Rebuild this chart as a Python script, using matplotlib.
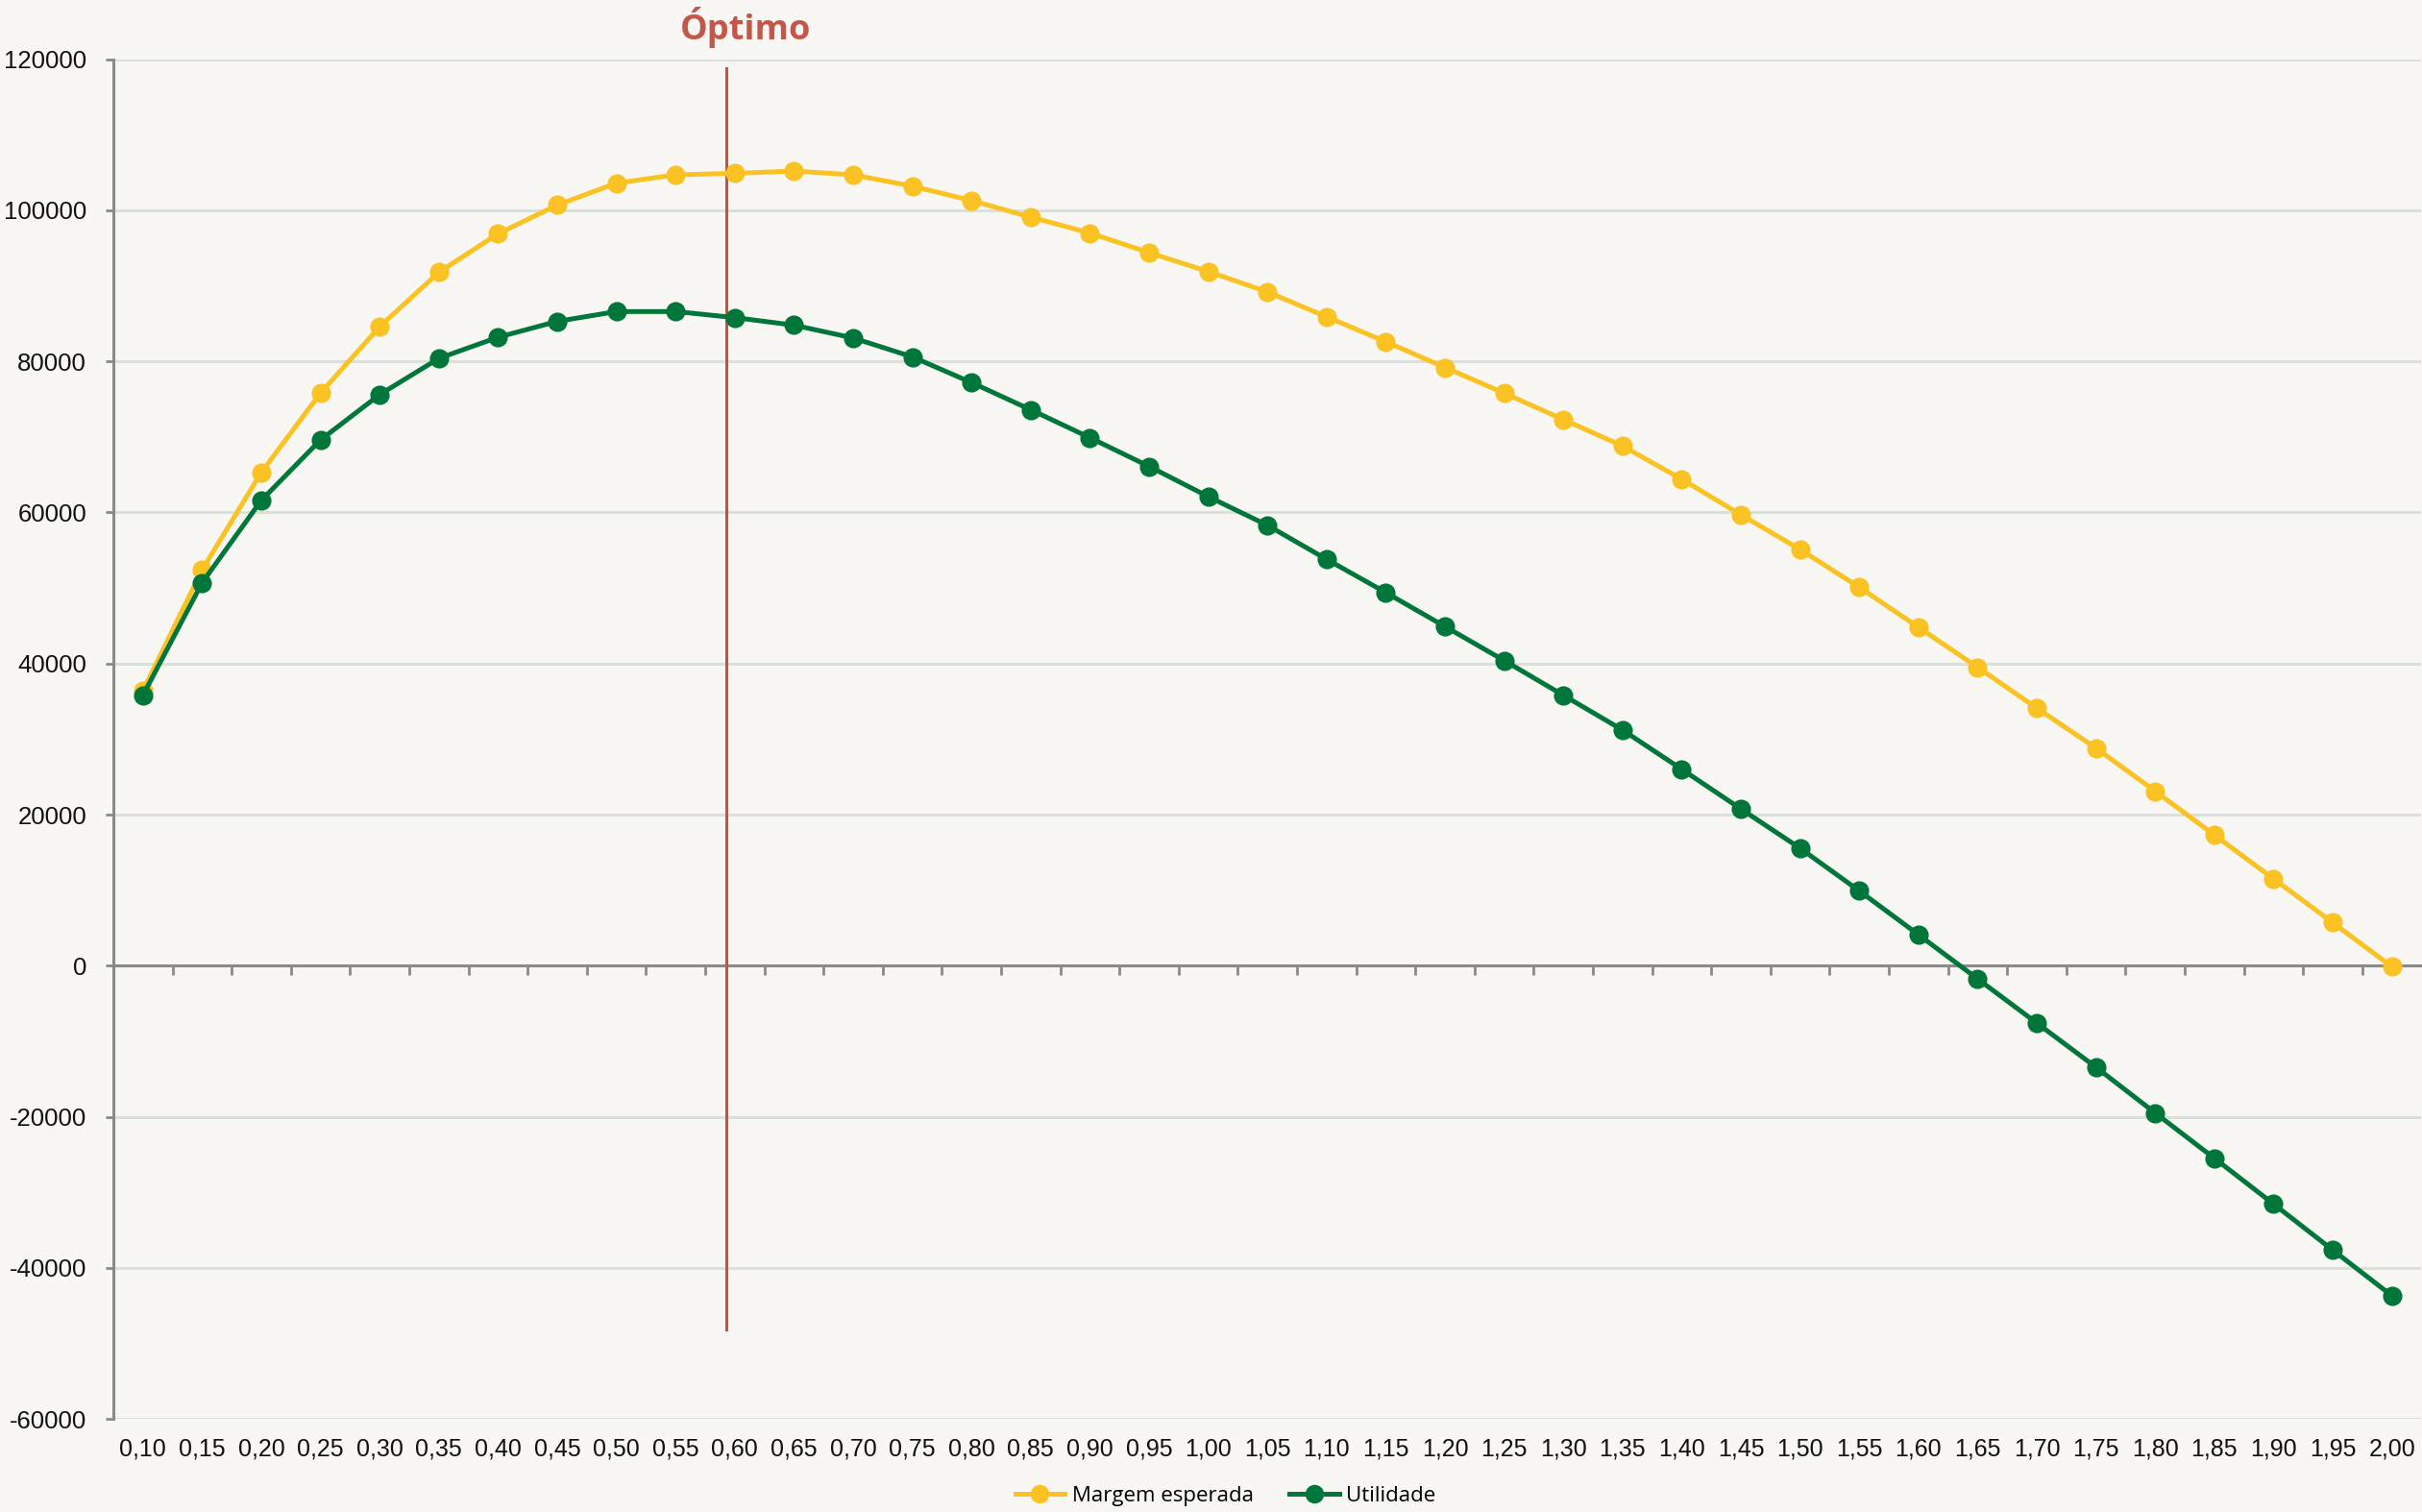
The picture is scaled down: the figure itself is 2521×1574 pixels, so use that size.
import matplotlib
matplotlib.use("Agg")
import matplotlib.pyplot as plt
from matplotlib.transforms import blended_transform_factory

# Categorias (preço relativo) e séries
precos = [0.10, 0.15, 0.20, 0.25, 0.30, 0.35, 0.40, 0.45, 0.50, 0.55,
          0.60, 0.65, 0.70, 0.75, 0.80, 0.85, 0.90, 0.95, 1.00, 1.05,
          1.10, 1.15, 1.20, 1.25, 1.30, 1.35, 1.40, 1.45, 1.50, 1.55,
          1.60, 1.65, 1.70, 1.75, 1.80, 1.85, 1.90, 1.95, 2.00]
rotulos = [f"{p:.2f}".replace(".", ",") for p in precos]

margem_esperada = [36400, 52400, 65300, 75800, 84600, 91800, 96900, 100700, 103600, 104700,
                   104900, 105200, 104700, 103200, 101300, 99100, 97000, 94400, 91900, 89200,
                   85900, 82600, 79200, 75800, 72300, 68800, 64400, 59700, 55100, 50100,
                   44800, 39500, 34100, 28800, 23100, 17300, 11500, 5700, -150]

utilidade = [35800, 50700, 61600, 69600, 75600, 80400, 83200, 85300, 86600, 86600,
             85800, 84800, 83100, 80600, 77200, 73600, 69900, 66100, 62100, 58300,
             53800, 49400, 44900, 40400, 35800, 31200, 26000, 20750, 15550, 9900,
             4100, -1750, -7600, -13450, -19500, -25500, -31550, -37650, -43700]

# Linha vertical do óptimo
optimo_preco = 0.5925
optimo_topo = 118800
optimo_base = -48200

y_ticks = [-60000, -40000, -20000, 0, 20000, 40000, 60000, 80000, 100000, 120000]

# Estilo
FUNDO = "#F8F7F3"
AMARELO = "#FBC223"
VERDE = "#00763A"
VERMELHO = "#CC4F3D"
TITULO = "#C4574A"
GRELHA = "#DAE0DA"
EIXO = "#8A8A8A"

plt.rcParams["font.family"] = ["Liberation Sans", "DejaVu Sans"]

fig = plt.figure(figsize=(25.21, 15.74), dpi=100, facecolor=FUNDO)
ax = fig.add_axes([0.0468, 0.0616, 0.953, 0.8992])
ax.set_facecolor(FUNDO)

pos = list(range(len(precos)))

ax.plot(pos, margem_esperada, color=AMARELO, lw=3.6, marker="o", ms=13.5,
        mec=AMARELO, mfc=AMARELO, clip_on=False, zorder=4, label="Margem esperada")
ax.plot(pos, utilidade, color=VERDE, lw=3.6, marker="o", ms=13.5,
        mec=VERDE, mfc=VERDE, clip_on=False, zorder=5, label="Utilidade")

# posição do óptimo na escala de categorias
passo = precos[1] - precos[0]
pos_optimo = (optimo_preco - precos[0]) / passo
ax.plot([pos_optimo, pos_optimo], [optimo_base, optimo_topo], color=VERMELHO,
        lw=2.2, zorder=3, clip_on=False)

ax.set_xlim(-0.5, len(precos) - 0.5)
ax.set_ylim(y_ticks[0], y_ticks[-1])

# Grelha horizontal
ax.set_yticks(y_ticks)
ax.set_yticklabels([str(v) for v in y_ticks])
ax.yaxis.grid(True, color=GRELHA, lw=2.2, zorder=0)
ax.set_axisbelow(True)
ax.tick_params(axis="y", length=6, width=2, color=EIXO, pad=14,
               labelsize=18.5, labelcolor="#111111")

# Eixo horizontal cruza em zero, marcas entre categorias
for s in ["top", "right"]:
    ax.spines[s].set_visible(False)
ax.spines["left"].set_color(EIXO)
ax.spines["left"].set_linewidth(2.2)
ax.spines["bottom"].set_position(("data", 0))
ax.spines["bottom"].set_color(EIXO)
ax.spines["bottom"].set_linewidth(2.2)
ax.spines["bottom"].set_zorder(2)
ax.set_xticks([i + 0.5 for i in pos[:-1]])
ax.set_xticklabels([])
ax.tick_params(axis="x", direction="out", length=7, width=2, color=EIXO)

# Rótulos das categorias no fundo do gráfico
sec = ax.secondary_xaxis("bottom")
sec.set_xticks(pos)
sec.set_xticklabels(rotulos)
sec.tick_params(length=0, pad=14, labelsize=18, labelcolor="#111111")
sec.spines["bottom"].set_visible(False)

# Título sobre a linha do óptimo
trans = blended_transform_factory(ax.transData, fig.transFigure)
ax.text(pos_optimo + 0.33, 0.982, "Óptimo", transform=trans, ha="center", va="center",
        fontsize=26, fontweight="bold", color=TITULO, family="Open Sans")

leg = fig.legend(loc="center", bbox_to_anchor=(0.506, 0.0105), ncol=2, frameon=False,
                 prop={"family": "Open Sans", "size": 16}, handlelength=2.3,
                 handletextpad=0.35, columnspacing=1.7, markerscale=1.0)
for h in leg.legend_handles:
    h.set_markersize(13)

fig.savefig("out.png", dpi=100, facecolor=FUNDO)
